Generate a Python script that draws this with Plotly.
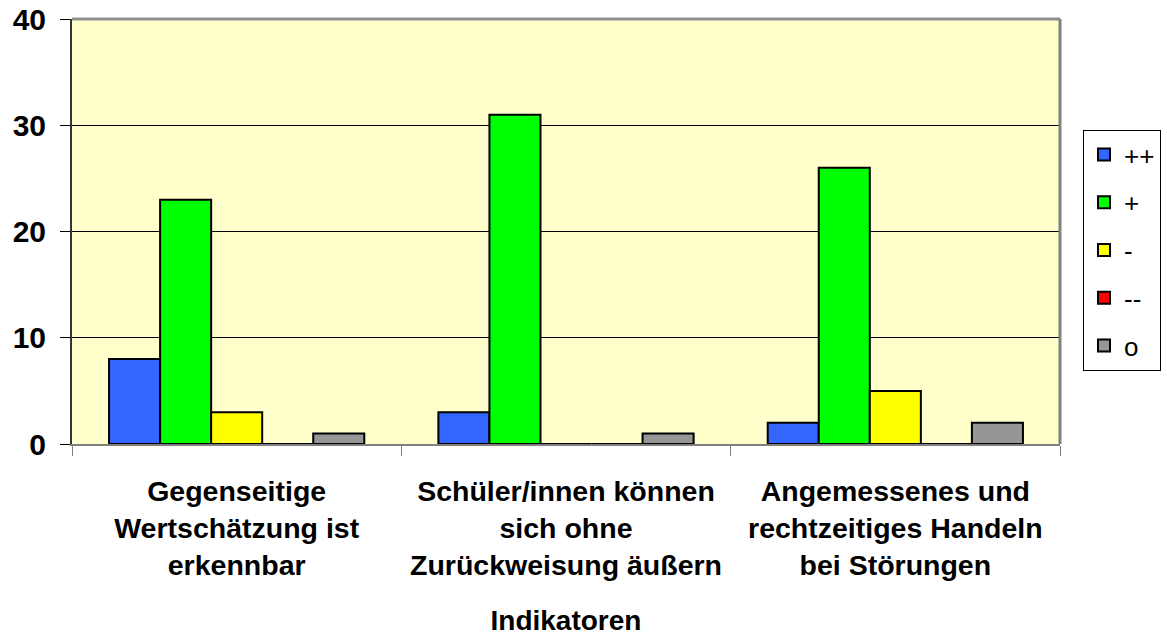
import plotly.graph_objects as go

categories = [
    "Gegenseitige<br>Wertschätzung ist<br>erkennbar",
    "Schüler/innen können<br>sich ohne<br>Zurückweisung äußern",
    "Angemessenes und<br>rechtzeitiges Handeln<br>bei Störungen",
]
series_names = ["++", "+", "-", "--", "o"]
vals_pp = [8, 3, 2]
vals_p = [23, 31, 26]
vals_m = [3, 0, 5]
vals_mm = [0, 0, 0]
vals_o = [1, 1, 2]
colors = ["#3366FF", "#00FF00", "#FFFF00", "#FF0000", "#969696"]

fig = go.Figure()
for i, (name, vals) in enumerate(zip(series_names, [vals_pp, vals_p, vals_m, vals_mm, vals_o])):
    fig.add_trace(go.Bar(x=categories, y=vals, name=name, legendgroup=name,
                         marker=dict(color=colors[i], line=dict(color="black", width=2))))

W, H = 1167, 636
font = "Liberation Sans, Arial, sans-serif"
fig.update_layout(
    width=W, height=H,
    margin=dict(l=72, r=107, t=19, b=192),
    paper_bgcolor="white", plot_bgcolor="#FFFFCC",
    barmode="group", bargap=0.225, bargroupgap=0,
    font=dict(family=font, color="black"),
    showlegend=True,
    legend=dict(xref="container", yref="container", x=1083 / W, y=1 - 130 / H,
                xanchor="left", yanchor="top",
                bordercolor="black", borderwidth=1, bgcolor="white",
                font=dict(size=26), traceorder="grouped", tracegroupgap=11),
    xaxis=dict(tickson="boundaries", ticks="outside", ticklen=10, tickcolor="#808080",
               showline=True, linecolor="#808080", linewidth=2, automargin=False,
               ticklabelstandoff=21,
               tickfont=dict(size=28.5, family=font, weight="bold"),
               title=dict(text="<b>Indikatoren</b>", font=dict(size=28), standoff=31)),
    yaxis=dict(range=[0, 40], dtick=10, ticks="outside", ticklen=10, tickcolor="black",
               showline=True, linecolor="#333333", linewidth=2, automargin=False,
               ticklabelstandoff=8,
               showgrid=True, gridcolor="black", gridwidth=1, zeroline=False,
               tickfont=dict(size=30, family=font, weight="bold")),
    shapes=[dict(type="line", xref="paper", yref="paper", x0=0, x1=1, y0=1, y1=1,
                 line=dict(color="#909090", width=3)),
            dict(type="line", xref="paper", yref="paper", x0=1, x1=1, y0=0, y1=1,
                 line=dict(color="#808080", width=3))],
)

# drop the default 8px page margin so the figure sits at the window origin
fig.write_html("out.html", config={"displayModeBar": False},
               post_script="document.body.style.margin='0px';")
